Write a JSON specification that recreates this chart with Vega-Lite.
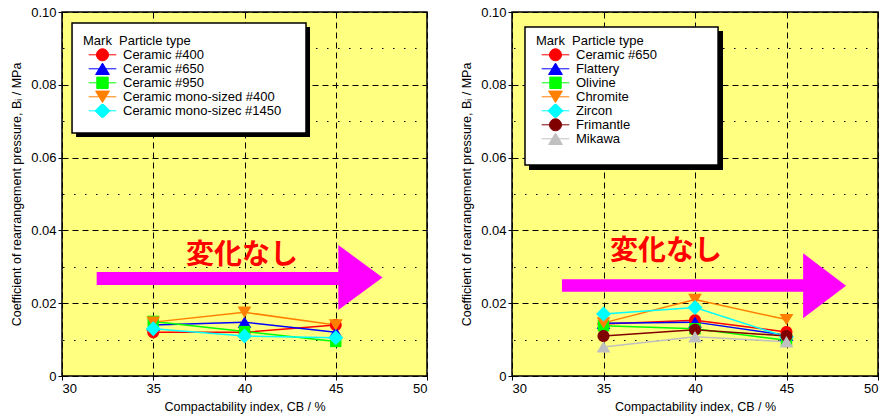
{
  "$schema": "https://vega.github.io/schema/vega-lite/v6.json",
  "background": "white",
  "padding": {"left": 9, "top": 5, "right": 0, "bottom": 0},
  "bounds": "flush",
  "spacing": 85,
  "config": {
    "font": "Liberation Sans",
    "view": {"fill": "#FFFF80", "stroke": "black", "strokeWidth": 1.5},
    "axis": {
      "labelFont": "Liberation Sans", "labelFontSize": 13, "labelColor": "black",
      "titleFont": "Liberation Sans", "titleFontSize": 12.5, "titleFontWeight": "normal", "titleColor": "black",
      "domain": false, "tickColor": "black", "tickSize": 4, "labelPadding": 2,
      "gridColor": "black", "gridOpacity": 1, "gridWidth": 1, "labelOverlap": false
    }
  },
  "datasets": {
    "left": [
      {"type": "Ceramic #400", "cb": 35, "b": 0.0120},
      {"type": "Ceramic #400", "cb": 40, "b": 0.0120},
      {"type": "Ceramic #400", "cb": 45, "b": 0.0140},
      {"type": "Ceramic #650", "cb": 35, "b": 0.0140},
      {"type": "Ceramic #650", "cb": 40, "b": 0.0148},
      {"type": "Ceramic #650", "cb": 45, "b": 0.0120},
      {"type": "Ceramic #950", "cb": 35, "b": 0.0150},
      {"type": "Ceramic #950", "cb": 40, "b": 0.0122},
      {"type": "Ceramic #950", "cb": 45, "b": 0.0095},
      {"type": "Ceramic mono-sized #400", "cb": 35, "b": 0.0148},
      {"type": "Ceramic mono-sized #400", "cb": 40, "b": 0.0175},
      {"type": "Ceramic mono-sized #400", "cb": 45, "b": 0.0140},
      {"type": "Ceramic mono-sizec #1450", "cb": 35, "b": 0.0130},
      {"type": "Ceramic mono-sizec #1450", "cb": 40, "b": 0.0110},
      {"type": "Ceramic mono-sizec #1450", "cb": 45, "b": 0.0105}
    ],
    "right": [
      {"type": "Ceramic #650", "cb": 35, "b": 0.0143},
      {"type": "Ceramic #650", "cb": 40, "b": 0.0153},
      {"type": "Ceramic #650", "cb": 45, "b": 0.0121},
      {"type": "Flattery", "cb": 35, "b": 0.0145},
      {"type": "Flattery", "cb": 40, "b": 0.0148},
      {"type": "Flattery", "cb": 45, "b": 0.0112},
      {"type": "Olivine", "cb": 35, "b": 0.0138},
      {"type": "Olivine", "cb": 40, "b": 0.0130},
      {"type": "Olivine", "cb": 45, "b": 0.0098},
      {"type": "Chromite", "cb": 35, "b": 0.0146},
      {"type": "Chromite", "cb": 40, "b": 0.0210},
      {"type": "Chromite", "cb": 45, "b": 0.0155},
      {"type": "Zircon", "cb": 35, "b": 0.0170},
      {"type": "Zircon", "cb": 40, "b": 0.0188},
      {"type": "Zircon", "cb": 45, "b": 0.0107},
      {"type": "Frimantle", "cb": 35, "b": 0.0110},
      {"type": "Frimantle", "cb": 40, "b": 0.0127},
      {"type": "Frimantle", "cb": 45, "b": 0.0110},
      {"type": "Mikawa", "cb": 35, "b": 0.0080},
      {"type": "Mikawa", "cb": 40, "b": 0.0108},
      {"type": "Mikawa", "cb": 45, "b": 0.0094}
    ]
  },
  "resolve": {"scale": {"x": "independent", "y": "independent", "color": "independent", "shape": "independent", "fill": "independent", "stroke": "independent"}},
  "hconcat": [
    {
      "width": 365, "height": 364,
      "resolve": {"scale": {"shape": "independent", "fill": "independent", "stroke": "independent"}, "axis": {"y": "independent"}},
      "layer": [
        {
          "data": {"name": "left"},
          "mark": {"type": "line", "strokeWidth": 1.5},
          "encoding": {
            "x": {"field": "cb", "type": "quantitative", "scale": {"domain": [30, 50]}, "title": "Compactability index, CB / %",
                  "axis": {"values": [30, 35, 40, 45, 50], "grid": true, "gridDash": [6, 4], "titlePadding": 5}},
            "y": {"field": "b", "type": "quantitative", "scale": {"domain": [0, 0.1]}, "title": "Coefficient of rearrangement pressure, Bᵢ / MPa",
                  "axis": {"orient": "left", "values": [0, 0.02, 0.04, 0.06, 0.08, 0.1],
                           "labelExpr": "datum.value == 0 ? '0' : format(datum.value, '.2f')",
                           "grid": true, "gridDash": [6, 4], "titlePadding": 7}},
            "color": {"field": "type", "type": "nominal", "legend": null,
                      "scale": {"domain": ["Ceramic #400", "Ceramic #650", "Ceramic #950", "Ceramic mono-sized #400", "Ceramic mono-sizec #1450"],
                                "range": ["#FF0000", "#0000FF", "#00FF00", "#FF8000", "#00FFFF"]}}
          }
        },
        {
          "data": {"name": "left"},
          "mark": {"type": "point", "filled": true, "opacity": 1, "size": 144},
          "encoding": {
            "x": {"field": "cb", "type": "quantitative"},
            "y": {"field": "b", "type": "quantitative",
                  "axis": {"orient": "right", "values": [0.01, 0.03, 0.05, 0.07, 0.09], "grid": true, "gridDash": [1.5, 9.5],
                           "ticks": false, "labels": false, "title": null}},
            "color": {"field": "type", "type": "nominal", "legend": null},
            "shape": {"field": "type", "type": "nominal", "legend": null,
                      "scale": {"domain": ["Ceramic #400", "Ceramic #650", "Ceramic #950", "Ceramic mono-sized #400", "Ceramic mono-sizec #1450"],
                                "range": ["M1,0A1,1,0,1,1,-1,0A1,1,0,1,1,1,0Z", "M0,-0.95L1.15,0.95L-1.15,0.95Z", "M-0.95,-0.95L0.95,-0.95L0.95,0.95L-0.95,0.95Z", "M0,0.95L1.15,-0.95L-1.15,-0.95Z", "M0,-1.25L1.25,0L0,1.25L-1.25,0Z"]}}
          }
        },
        {
          "data": {"values": [{}]},
          "mark": {"type": "rect", "color": "#FF00FF"},
          "encoding": {
            "x": {"datum": 31.9, "type": "quantitative"}, "x2": {"datum": 45.2},
            "y": {"datum": 0.0250, "type": "quantitative", "axis": null}, "y2": {"datum": 0.02857}
          }
        },
        {
          "data": {"values": [{}]},
          "mark": {"type": "point", "filled": true, "color": "#FF00FF", "opacity": 1, "size": 4225, "shape": "M-0.68,-1L0.68,0L-0.68,1Z"},
          "encoding": {
            "x": {"datum": 46.35, "type": "quantitative"},
            "y": {"datum": 0.02706, "type": "quantitative", "axis": null}
          }
        },
        {
          "data": {"values": [{}]},
          "mark": {"type": "text", "font": "Noto Sans CJK JP", "fontSize": 28, "fontWeight": "bold", "color": "#FF0000", "align": "center", "baseline": "middle"},
          "encoding": {
            "x": {"datum": 39.86, "type": "quantitative"},
            "y": {"datum": 0.0330, "type": "quantitative", "axis": null},
            "text": {"value": "変化なし"}
          }
        },
        {
          "data": {"values": [{}]},
          "mark": {"type": "rect", "color": "black"},
          "encoding": {
            "x": {"datum": 30.77, "type": "quantitative"}, "x2": {"datum": 43.59},
            "y": {"datum": 0.09588, "type": "quantitative", "axis": null}, "y2": {"datum": 0.06566}
          }
        },
        {
          "data": {"values": [{}]},
          "mark": {"type": "rect", "fill": "white", "stroke": "black", "strokeWidth": 1.5},
          "encoding": {
            "x": {"datum": 30.55, "type": "quantitative"}, "x2": {"datum": 43.37},
            "y": {"datum": 0.09698, "type": "quantitative", "axis": null}, "y2": {"datum": 0.06676}
          }
        },
        {
          "data": {"name": "left"},
          "mark": {"type": "point", "filled": true, "clip": true, "opacity": 1, "strokeWidth": 1, "size": 144},
          "encoding": {
            "x": {"datum": 100, "type": "quantitative"},
            "y": {"datum": 1, "type": "quantitative", "axis": null},
            "fill": {"field": "type", "type": "nominal",
                     "scale": {"domain": ["Ceramic #400", "Ceramic #650", "Ceramic #950", "Ceramic mono-sized #400", "Ceramic mono-sizec #1450"],
                               "range": ["#FF0000", "#0000FF", "#00FF00", "#FF8000", "#00FFFF"]},
                     "legend": {"title": "Mark\u00a0\u00a0Particle type", "orient": "none", "legendX": 21, "legendY": 23, "padding": 0,
                                "titleFont": "Liberation Sans", "titleFontSize": 13, "titleFontWeight": "normal", "titleColor": "black", "titlePadding": 0,
                                "labelFont": "Liberation Sans", "labelFontSize": 13, "labelColor": "black", "labelLimit": 400,
                                "symbolSize": 144, "symbolStrokeWidth": 1, "symbolOffset": 13, "labelOffset": 14, "rowPadding": 0, "clipHeight": 13.6}},
            "stroke": {"field": "type", "type": "nominal",
                       "scale": {"domain": ["Ceramic #400", "Ceramic #650", "Ceramic #950", "Ceramic mono-sized #400", "Ceramic mono-sizec #1450"],
                                 "range": ["#FF0000", "#0000FF", "#00FF00", "#FF8000", "#00FFFF"]},
                       "legend": {"title": "Mark\u00a0\u00a0Particle type", "orient": "none", "legendX": 21, "legendY": 23, "padding": 0,
                                  "titleFont": "Liberation Sans", "titleFontSize": 13, "titleFontWeight": "normal", "titleColor": "black", "titlePadding": 0,
                                  "labelFont": "Liberation Sans", "labelFontSize": 13, "labelColor": "black", "labelLimit": 400,
                                  "symbolSize": 144, "symbolStrokeWidth": 1, "symbolOffset": 13, "labelOffset": 14, "rowPadding": 0, "clipHeight": 13.6}},
            "shape": {"field": "type", "type": "nominal",
                      "scale": {"domain": ["Ceramic #400", "Ceramic #650", "Ceramic #950", "Ceramic mono-sized #400", "Ceramic mono-sizec #1450"],
                                "range": ["M-2.3,0L2.3,0M1,0A1,1,0,1,1,-1,0A1,1,0,1,1,1,0Z", "M-2.3,0L2.3,0M0,-0.95L1.15,0.95L-1.15,0.95Z", "M-2.3,0L2.3,0M-0.95,-0.95L0.95,-0.95L0.95,0.95L-0.95,0.95Z", "M-2.3,0L2.3,0M0,0.95L1.15,-0.95L-1.15,-0.95Z", "M-2.3,0L2.3,0M0,-1.25L1.25,0L0,1.25L-1.25,0Z"]},
                      "legend": {"title": "Mark\u00a0\u00a0Particle type", "orient": "none", "legendX": 21, "legendY": 23, "padding": 0,
                                 "titleFont": "Liberation Sans", "titleFontSize": 13, "titleFontWeight": "normal", "titleColor": "black", "titlePadding": 0,
                                 "labelFont": "Liberation Sans", "labelFontSize": 13, "labelColor": "black", "labelLimit": 400,
                                 "symbolSize": 144, "symbolStrokeWidth": 1, "symbolOffset": 13, "labelOffset": 14, "rowPadding": 0, "clipHeight": 13.6}}
          }
        }
      ]
    },
    {
      "width": 366, "height": 364,
      "resolve": {"scale": {"shape": "independent", "fill": "independent", "stroke": "independent"}, "axis": {"y": "independent"}},
      "layer": [
        {
          "data": {"name": "right"},
          "mark": {"type": "line", "strokeWidth": 1.5},
          "encoding": {
            "x": {"field": "cb", "type": "quantitative", "scale": {"domain": [30, 50]}, "title": "Compactability index, CB / %",
                  "axis": {"values": [30, 35, 40, 45, 50], "grid": true, "gridDash": [6, 4], "titlePadding": 5}},
            "y": {"field": "b", "type": "quantitative", "scale": {"domain": [0, 0.1]}, "title": "Coefficient of rearrangement pressure, Bᵢ / MPa",
                  "axis": {"orient": "left", "values": [0, 0.02, 0.04, 0.06, 0.08, 0.1],
                           "labelExpr": "datum.value == 0 ? '0' : format(datum.value, '.2f')",
                           "grid": true, "gridDash": [6, 4], "titlePadding": 7}},
            "color": {"field": "type", "type": "nominal", "legend": null,
                      "scale": {"domain": ["Ceramic #650", "Flattery", "Olivine", "Chromite", "Zircon", "Frimantle", "Mikawa"],
                                "range": ["#FF0000", "#0000FF", "#00FF00", "#FF8000", "#00FFFF", "#800000", "#C0C0C0"]}}
          }
        },
        {
          "data": {"name": "right"},
          "mark": {"type": "point", "filled": true, "opacity": 1, "size": 144},
          "encoding": {
            "x": {"field": "cb", "type": "quantitative"},
            "y": {"field": "b", "type": "quantitative",
                  "axis": {"orient": "right", "values": [0.01, 0.03, 0.05, 0.07, 0.09], "grid": true, "gridDash": [1.5, 9.5],
                           "ticks": false, "labels": false, "title": null}},
            "color": {"field": "type", "type": "nominal", "legend": null},
            "shape": {"field": "type", "type": "nominal", "legend": null,
                      "scale": {"domain": ["Ceramic #650", "Flattery", "Olivine", "Chromite", "Zircon", "Frimantle", "Mikawa"],
                                "range": ["M1,0A1,1,0,1,1,-1,0A1,1,0,1,1,1,0Z", "M0,-0.95L1.15,0.95L-1.15,0.95Z", "M-0.95,-0.95L0.95,-0.95L0.95,0.95L-0.95,0.95Z", "M0,0.95L1.15,-0.95L-1.15,-0.95Z", "M0,-1.25L1.25,0L0,1.25L-1.25,0Z", "M1,0A1,1,0,1,1,-1,0A1,1,0,1,1,1,0Z", "M0,-0.95L1.15,0.95L-1.15,0.95Z"]}}
          }
        },
        {
          "data": {"values": [{}]},
          "mark": {"type": "rect", "color": "#FF00FF"},
          "encoding": {
            "x": {"datum": 32.73, "type": "quantitative"}, "x2": {"datum": 46.0},
            "y": {"datum": 0.02316, "type": "quantitative", "axis": null}, "y2": {"datum": 0.02656}
          }
        },
        {
          "data": {"values": [{}]},
          "mark": {"type": "point", "filled": true, "color": "#FF00FF", "opacity": 1, "size": 4225, "shape": "M-0.66,-1L0.66,0L-0.66,1Z"},
          "encoding": {
            "x": {"datum": 47.08, "type": "quantitative"},
            "y": {"datum": 0.0248, "type": "quantitative", "axis": null}
          }
        },
        {
          "data": {"values": [{}]},
          "mark": {"type": "text", "font": "Noto Sans CJK JP", "fontSize": 28, "fontWeight": "bold", "color": "#FF0000", "align": "center", "baseline": "middle"},
          "encoding": {
            "x": {"datum": 38.42, "type": "quantitative"},
            "y": {"datum": 0.0342, "type": "quantitative", "axis": null},
            "text": {"value": "変化なし"}
          }
        },
        {
          "data": {"values": [{}]},
          "mark": {"type": "rect", "color": "black"},
          "encoding": {
            "x": {"datum": 30.93, "type": "quantitative"}, "x2": {"datum": 41.53},
            "y": {"datum": 0.09478, "type": "quantitative", "axis": null}, "y2": {"datum": 0.05659}
          }
        },
        {
          "data": {"values": [{}]},
          "mark": {"type": "rect", "fill": "white", "stroke": "black", "strokeWidth": 1.5},
          "encoding": {
            "x": {"datum": 30.71, "type": "quantitative"}, "x2": {"datum": 41.26},
            "y": {"datum": 0.09588, "type": "quantitative", "axis": null}, "y2": {"datum": 0.05797}
          }
        },
        {
          "data": {"name": "right"},
          "mark": {"type": "point", "filled": true, "clip": true, "opacity": 1, "strokeWidth": 1, "size": 144},
          "encoding": {
            "x": {"datum": 100, "type": "quantitative"},
            "y": {"datum": 1, "type": "quantitative", "axis": null},
            "fill": {"field": "type", "type": "nominal",
                     "scale": {"domain": ["Ceramic #650", "Flattery", "Olivine", "Chromite", "Zircon", "Frimantle", "Mikawa"],
                               "range": ["#FF0000", "#0000FF", "#00FF00", "#FF8000", "#00FFFF", "#800000", "#C0C0C0"]},
                     "legend": {"title": "Mark\u00a0\u00a0Particle type", "orient": "none", "legendX": 24, "legendY": 23, "padding": 0,
                                "titleFont": "Liberation Sans", "titleFontSize": 13, "titleFontWeight": "normal", "titleColor": "black", "titlePadding": 0,
                                "labelFont": "Liberation Sans", "labelFontSize": 13, "labelColor": "black", "labelLimit": 400,
                                "labelExpr": "(datum.label == 'Ceramic #650' || datum.label == 'Flattery') ? '\u00a0' + datum.label : datum.label",
                                "symbolSize": 144, "symbolStrokeWidth": 1, "symbolOffset": 13, "labelOffset": 14, "rowPadding": 0, "clipHeight": 13.6}},
            "stroke": {"field": "type", "type": "nominal",
                       "scale": {"domain": ["Ceramic #650", "Flattery", "Olivine", "Chromite", "Zircon", "Frimantle", "Mikawa"],
                                 "range": ["#FF0000", "#0000FF", "#00FF00", "#FF8000", "#00FFFF", "#800000", "#C0C0C0"]},
                       "legend": {"title": "Mark\u00a0\u00a0Particle type", "orient": "none", "legendX": 24, "legendY": 23, "padding": 0,
                                  "titleFont": "Liberation Sans", "titleFontSize": 13, "titleFontWeight": "normal", "titleColor": "black", "titlePadding": 0,
                                  "labelFont": "Liberation Sans", "labelFontSize": 13, "labelColor": "black", "labelLimit": 400,
                                  "labelExpr": "(datum.label == 'Ceramic #650' || datum.label == 'Flattery') ? '\u00a0' + datum.label : datum.label",
                                  "symbolSize": 144, "symbolStrokeWidth": 1, "symbolOffset": 13, "labelOffset": 14, "rowPadding": 0, "clipHeight": 13.6}},
            "shape": {"field": "type", "type": "nominal",
                      "scale": {"domain": ["Ceramic #650", "Flattery", "Olivine", "Chromite", "Zircon", "Frimantle", "Mikawa"],
                                "range": ["M-2.3,0L2.3,0M1,0A1,1,0,1,1,-1,0A1,1,0,1,1,1,0Z", "M-2.3,0L2.3,0M0,-0.95L1.15,0.95L-1.15,0.95Z", "M-2.3,0L2.3,0M-0.95,-0.95L0.95,-0.95L0.95,0.95L-0.95,0.95Z", "M-2.3,0L2.3,0M0,0.95L1.15,-0.95L-1.15,-0.95Z", "M-2.3,0L2.3,0M0,-1.25L1.25,0L0,1.25L-1.25,0Z", "M-2.3,0L2.3,0M1,0A1,1,0,1,1,-1,0A1,1,0,1,1,1,0Z", "M-2.3,0L2.3,0M0,-0.95L1.15,0.95L-1.15,0.95Z"]},
                      "legend": {"title": "Mark\u00a0\u00a0Particle type", "orient": "none", "legendX": 24, "legendY": 23, "padding": 0,
                                 "titleFont": "Liberation Sans", "titleFontSize": 13, "titleFontWeight": "normal", "titleColor": "black", "titlePadding": 0,
                                 "labelFont": "Liberation Sans", "labelFontSize": 13, "labelColor": "black", "labelLimit": 400,
                                 "labelExpr": "(datum.label == 'Ceramic #650' || datum.label == 'Flattery') ? '\u00a0' + datum.label : datum.label",
                                 "symbolSize": 144, "symbolStrokeWidth": 1, "symbolOffset": 13, "labelOffset": 14, "rowPadding": 0, "clipHeight": 13.6}}
          }
        }
      ]
    }
  ]
}
